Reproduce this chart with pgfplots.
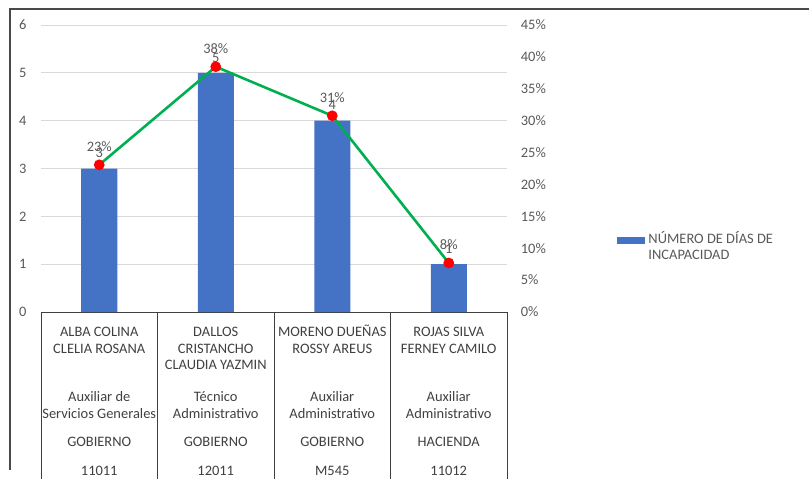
\documentclass[border=0pt]{standalone}
\usepackage{pgfplots}
\usepackage{pgfplotstable}
\pgfplotsset{compat=1.18}
\usepackage{fontspec}
\setmainfont{Carlito}
\definecolor{barblue}{HTML}{4472C4}
\definecolor{lgreen}{HTML}{00B050}
\definecolor{txt}{HTML}{595959}
\definecolor{gridc}{HTML}{D9D9D9}
\definecolor{tbl}{HTML}{404040}
\definecolor{framec}{HTML}{4A4A4A}
\newcommand{\cell}[7]{\rule{0pt}{12bp}#1\\#2\\\strut#3\\[15bp]#4\\#5\\[11.5bp]#6\\[12.5bp]#7}
\newcommand{\fnt}{\fontsize{14.5}{16.7}\selectfont}
\pgfplotstableread{
x days pct
0 3 23.08
1 5 38.46
2 4 30.77
3 1 7.69
}\datatable
\begin{document}
\begin{tikzpicture}
\useasboundingbox (-41bp,-167bp) rectangle (768bp,312bp);
\draw[framec, line width=1.4bp] (-31bp,-158bp) -- (-31bp,303bp) -- (775bp,303bp);
\begin{axis}[
  at={(0,0)}, anchor=south west,
  scale only axis, width=466bp, height=287bp,
  xmin=-0.5, xmax=3.5, ymin=0, ymax=6,
  enlargelimits=false,
  axis x line*=bottom, axis y line*=left,
  x axis line style={-, tbl, line width=0.8bp},
  y axis line style={draw=none},
  ytick={0,1,...,6},
  ymajorgrids, grid style={gridc, line width=0.8bp},
  ytick style={draw=none},
  xtick={0,1,2,3},
  major tick length=0pt,
  xticklabels={
    {\cell{ALBA COLINA}{CLELIA ROSANA}{}{Auxiliar de}{Servicios Generales}{GOBIERNO}{11011}},
    {\cell{DALLOS}{CRISTANCHO}{CLAUDIA YAZMIN}{Técnico}{Administrativo}{GOBIERNO}{12011}},
    {\cell{MORENO DUEÑAS}{ROSSY AREUS}{}{Auxiliar}{Administrativo}{GOBIERNO}{M545}},
    {\cell{ROJAS SILVA}{FERNEY CAMILO}{}{Auxiliar}{Administrativo}{HACIENDA}{11012}}},
  xticklabel style={font=\fnt, align=center, anchor=north, text=tbl, inner sep=0pt, yshift=-12.4bp},
  extra x ticks={-0.5,0.5,1.5,2.5,3.5},
  extra x tick labels={},
  extra x tick style={major tick length=172bp, tick align=outside, tick style={draw=tbl, line width=0.8bp}, grid=none},
  yticklabel style={font=\fnt, text=txt, inner sep=0pt, xshift=-14.3bp},
  /pgf/number format/assume math mode=true,
  clip=false,
  legend style={draw=none, fill=none, at={(axis description cs:1.2354,0.229)}, anchor=west,
    font=\fnt, text=txt, inner sep=0pt, nodes={align=left, inner sep=0pt},
    /tikz/every odd column/.append style={column sep=3.3bp}},
  legend cell align=left,
]
\addplot[ybar, bar width=36bp, fill=barblue, draw=none,
  legend image code/.code={\fill[barblue] (0bp,2.6bp) rectangle (28.3bp,9.3bp);},
  nodes near coords, point meta=y,
  every node near coord/.append style={font=\fnt, text=txt, inner sep=0pt, anchor=south, yshift=10.5bp}]
  table[x=x, y=days] {\datatable};
\addlegendentry{NÚMERO DE DÍAS DE\\INCAPACIDAD}
\end{axis}
\begin{axis}[
  at={(0,0)}, anchor=south west,
  scale only axis, width=466bp, height=287bp,
  xmin=-0.5, xmax=3.5, ymin=0, ymax=45,
  enlargelimits=false,
  axis x line=none, axis y line*=right,
  y axis line style={draw=none},
  ytick={0,5,...,45},
  ytick style={draw=none},
  yticklabel={\pgfmathprintnumber{\tick}\%},
  yticklabel style={font=\fnt, text=txt, inner sep=0pt, xshift=13.7bp, anchor=west},
  /pgf/number format/assume math mode=true,
  clip=false,
]
\addplot[lgreen, line width=2.6bp, mark=*, mark size=4bp, mark options={fill=red, draw=red},
  nodes near coords={\pgfmathprintnumber[fixed,precision=0]{\pgfplotspointmeta}\%}, point meta=y,
  every node near coord/.append style={font=\fnt, text=txt, inner sep=0pt, anchor=south, yshift=12bp}]
  table[x=x, y=pct] {\datatable};
\end{axis}
\end{tikzpicture}
\end{document}
